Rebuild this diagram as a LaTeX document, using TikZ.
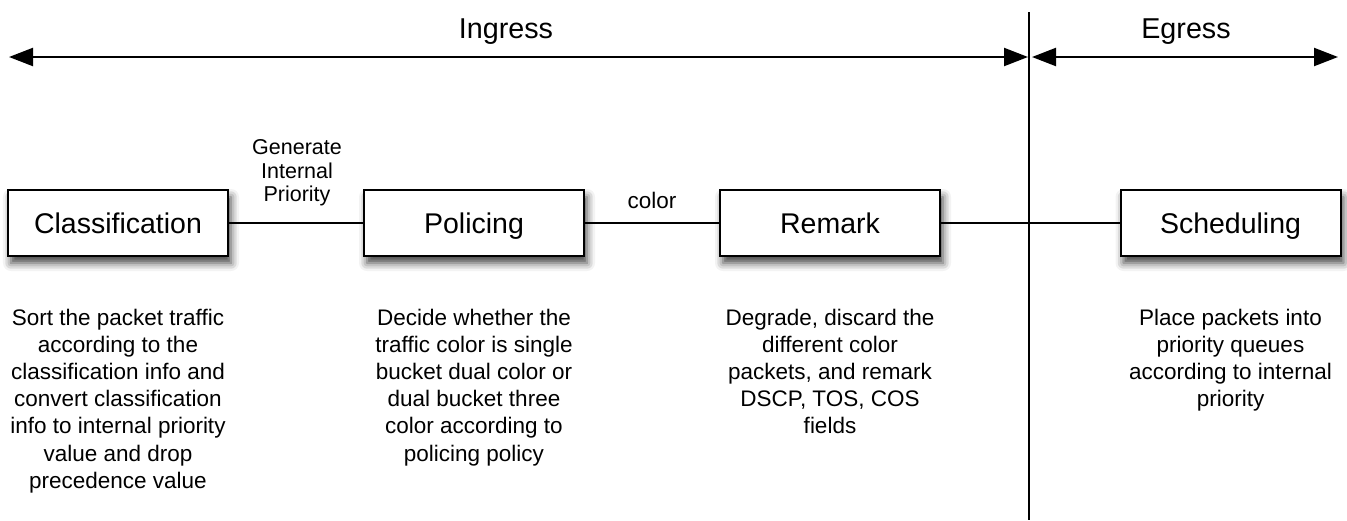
\documentclass[tikz,border=0pt]{standalone}
\usepackage{fontspec}
\setmainfont{Liberation Sans}
\usetikzlibrary{arrows.meta,shadows.blur}
\tikzset{
  procbox/.style={draw=black, line width=2pt, fill=white, minimum width=220pt, minimum height=66pt,
    inner sep=0pt, text height=20.5pt, text depth=0pt,
    font=\fontsize{28.5}{32}\selectfont,
    blur shadow={shadow xshift=3pt, shadow yshift=-7pt, shadow blur radius=8pt, shadow opacity=75}},
  desc/.style={anchor=north, inner sep=0pt, align=center, font=\fontsize{22.5}{27.2}\selectfont},
  lbl/.style={inner sep=0pt, align=center, font=\fontsize{21.5}{23.5}\selectfont},
  phase/.style={anchor=base, inner sep=0pt, font=\fontsize{28.7}{32}\selectfont},
  span/.style={line width=2.2pt, {Triangle[length=24pt,width=18pt]}-{Triangle[length=24pt,width=18pt]}},
  conn/.style={line width=1.8pt}
}
\begin{document}
\begin{tikzpicture}[x=1pt,y=1pt]
\useasboundingbox (0,0) rectangle (1347,-520);
% divider
\coordinate (dtop) at (1029,-12);
\coordinate (dbot) at (1029,-520);
\draw[line width=2pt] (dtop) -- (dbot);
% span arrows
\coordinate (iL) at (9,-57);
\coordinate (iR) at (1028,-57);
\coordinate (eL) at (1032,-57);
\coordinate (eR) at (1338,-57);
\draw[span] (iL) -- (iR);
\draw[span] (eL) -- (eR);
\node[phase] (ingress) at (506,-38.5) {Ingress};
\node[phase] (egress) at (1186,-38.5) {Egress};
% boxes
\node[procbox] (cls) at (118,-223) {Classification};
\node[procbox] (pol) at (474,-223) {Policing};
\node[procbox] (rem) at (830,-223) {Remark};
\node[procbox] (sch) at (1230.5,-223) {Scheduling};
% connectors
\draw[conn] (cls.east) -- (pol.west);
\draw[conn] (pol.east) -- (rem.west);
\draw[conn] (rem.east) -- (sch.west);
% labels
\node[lbl, anchor=north] (gip) at (297,-139.7) {Generate\\Internal\\Priority};
\node[anchor=base, inner sep=0pt, font=\fontsize{22.5}{27}\selectfont] (col) at (652,-208) {color};
% descriptions
\node[desc] (dcls) at (118,-308.5) {Sort the packet traffic\\according to the\\classification info and\\convert classification\\info to internal priority\\value and drop\\precedence value};
\node[desc] (dpol) at (474,-308.5) {Decide whether the\\traffic color is single\\bucket dual color or\\dual bucket three\\color according to\\policing policy};
\node[desc] (drem) at (830,-308.5) {Degrade, discard the\\different color\\packets, and remark\\DSCP, TOS, COS\\fields};
\node[desc] (dsch) at (1230.5,-308.5) {Place packets into\\priority queues\\according to internal\\priority};
\end{tikzpicture}
\end{document}
